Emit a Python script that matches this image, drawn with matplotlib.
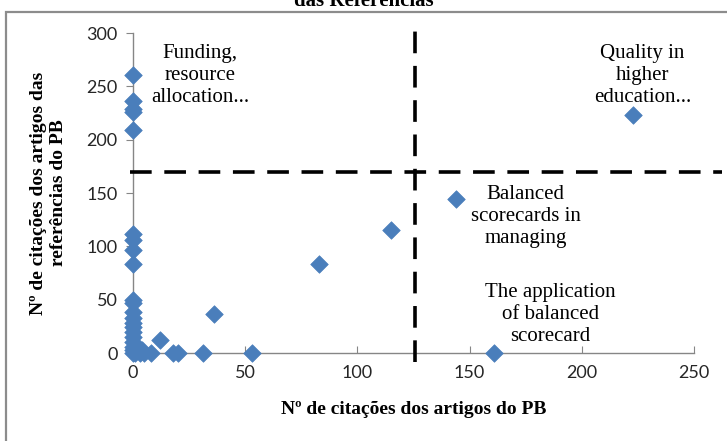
import matplotlib
matplotlib.use("Agg")
import matplotlib.pyplot as plt
from matplotlib.patches import Rectangle

# citations of PB papers (x) vs citations of the reference papers (y)
cit_pb = [0, 0, 0, 0, 0,
          0, 0, 0, 0,
          0, 0, 0, 0, 0, 0, 0, 0, 0, 0, 0, 0,
          1, 2, 3, 4, 5, 8, 12, 18, 20, 31, 36, 53,
          83, 115, 144, 161, 223]
cit_ref = [261, 236, 229, 226, 209,
           112, 106, 97, 83,
           50, 47, 38, 33, 28, 24, 20, 15, 10, 6, 3, 0,
           0, 3, 0, 3, 0, 0, 12, 0, 0, 0, 37, 0,
           83, 115, 144, 0, 223]

# quadrant cut-offs
cut_x = 125.5
cut_y = 170

quadrant_notes = ["Funding,\nresource\nallocation...",
                  "Quality in\nhigher\neducation...",
                  "Balanced\nscorecards in\nmanaging",
                  "The application\nof balanced\nscorecard"]
note_pos = [(30, 260), (227, 260), (175, 128), (186, 36)]

x_ticks = [0, 50, 100, 150, 200, 250]
y_ticks = [0, 50, 100, 150, 200, 250, 300]

W, H = 727, 441
fig = plt.figure(figsize=(W / 100, H / 100), dpi=100)
ax = fig.add_axes([133 / W, 1 - 353 / H, (694 - 133) / W, (353 - 33) / H])

# outer chart frame (cut at right and bottom)
fig.patches.append(Rectangle((5.5 / W, -0.1), 1.2, 1.1 - 11.5 / H,
                             transform=fig.transFigure, fill=False,
                             edgecolor="#8c8c8c", lw=1.6))

fig.text(0.5, 1 - 1 / H, "das Referências", ha="center", va="center",
         family="Liberation Serif", fontweight="bold", fontsize=15)

ax.scatter(cit_pb, cit_ref, marker="D", s=80, color="#4a7ebb",
           edgecolor="#4a7ebb", linewidth=0.5, zorder=3, clip_on=False)

ax.set_xlim(0, 250)
ax.set_ylim(0, 300)
ax.set_xticks(x_ticks)
ax.set_yticks(y_ticks)
for s in ["top", "right"]:
    ax.spines[s].set_visible(False)
for s in ["left", "bottom"]:
    ax.spines[s].set_color("#868686")
    ax.spines[s].set_linewidth(1.0)
ax.tick_params(axis="x", direction="in", length=5, color="#868686", pad=9)
ax.tick_params(axis="y", direction="out", length=5, color="#868686", pad=6)
for lab in ax.get_xticklabels() + ax.get_yticklabels():
    lab.set_family("Lato")
    lab.set_fontsize(13)
    lab.set_color("#262626")

# dashed quadrant lines, running a little past the plot area
ax.plot([cut_x, cut_x], [-0.028, 1.035], transform=ax.get_xaxis_transform(),
        color="black", lw=2.6, dashes=(6, 3.5), clip_on=False, zorder=4)
ax.plot([-0.005, 1.05], [cut_y, cut_y], transform=ax.get_yaxis_transform(),
        color="black", lw=2.6, dashes=(6, 3.5), clip_on=False, zorder=4)

for txt, (x, y) in zip(quadrant_notes, note_pos):
    ax.text(x, y, txt, ha="center", va="center", family="Liberation Serif",
            fontsize=15, linespacing=1.22, clip_on=False)

ax.set_xlabel("Nº de citações dos artigos do PB", family="Liberation Serif",
              fontweight="bold", fontsize=14, labelpad=14)
ax.set_ylabel("Nº de citações dos artigos das\nreferências do PB",
              family="Liberation Serif", fontweight="bold", fontsize=14,
              labelpad=14, linespacing=1.25)

fig.savefig("out.png", dpi=100)
